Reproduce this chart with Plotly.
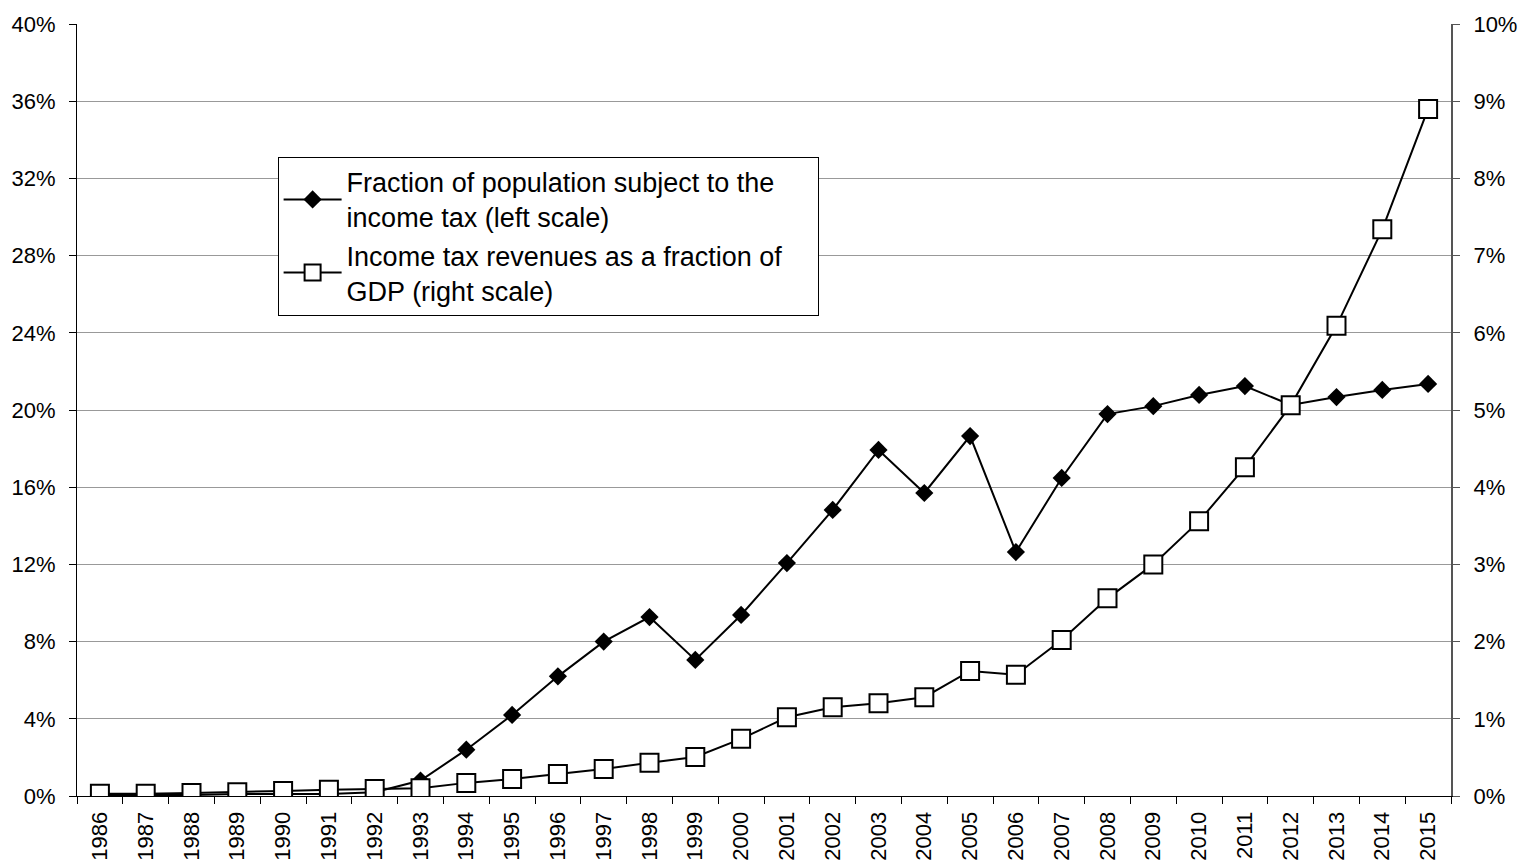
import plotly.graph_objects as go

years = [str(y) for y in range(1986, 2016)]

pop_share = [0.05, 0.05, 0.05, 0.1, 0.1, 0.1, 0.2, 0.8, 2.4, 4.2,
             6.2, 8.0, 9.27, 7.05, 9.38, 12.07, 14.82, 17.93, 15.7, 18.65,
             12.64, 16.48, 19.79, 20.2, 20.78, 21.24, 20.26, 20.67, 21.04, 21.35]

revenue_gdp = [0.03, 0.03, 0.04, 0.05, 0.065, 0.08, 0.09, 0.10, 0.17, 0.22,
               0.285, 0.35, 0.43, 0.505, 0.74, 1.02, 1.15, 1.2, 1.28, 1.62,
               1.57, 2.02, 2.56, 3.0, 3.56, 4.26, 5.06, 6.09, 7.34, 8.9]

left_ticks = list(range(0, 41, 4))
right_ticks = list(range(0, 11, 1))

font_family = "Liberation Sans, Arial, sans-serif"
pad = "\u00a0" * 5

fig = go.Figure()
fig.add_trace(go.Scatter(
    x=years, y=pop_share, mode="lines+markers",
    name="Fraction of population subject to the" + pad + "<br>income tax (left scale)",
    line=dict(color="black", width=2),
    marker=dict(symbol="diamond", size=14, color="black"),
    yaxis="y",
))
fig.add_trace(go.Scatter(
    x=years, y=revenue_gdp, mode="lines+markers",
    name="Income tax revenues as a fraction of<br>GDP (right scale)",
    line=dict(color="black", width=2),
    marker=dict(symbol="square", size=18, color="white",
                line=dict(color="black", width=2)),
    yaxis="y2",
))

fig.update_layout(
    width=1519, height=861,
    margin=dict(l=77, r=68, t=24, b=65),
    paper_bgcolor="white", plot_bgcolor="white",
    font=dict(family=font_family, size=22, color="black"),
    showlegend=True,
    legend=dict(
        x=0.146, y=0.828, xanchor="left", yanchor="top",
        bgcolor="white", bordercolor="black", borderwidth=1,
        font=dict(size=27, family=font_family, color="black"),
        itemwidth=58, tracegroupgap=0,
    ),
    xaxis=dict(
        type="category", range=[-0.5, 29.5], autorange=False,
        tickangle=-90, ticks="outside", tickson="boundaries",
        ticklen=7, tickcolor="black", showline=True, linecolor="black",
        linewidth=1, showgrid=False, tickfont=dict(size=22),
        ticklabelstandoff=6, automargin=False,
    ),
    yaxis=dict(
        range=[0, 40], tickvals=left_ticks,
        ticktext=[f"{v}%" for v in left_ticks],
        ticks="outside", ticklen=7, tickcolor="black",
        showline=True, linecolor="black", linewidth=1,
        showgrid=True, gridcolor="#999999", gridwidth=1,
        zeroline=False, tickfont=dict(size=22),
        ticklabelstandoff=9, automargin=False,
    ),
    yaxis2=dict(
        range=[0, 10], tickvals=right_ticks,
        ticktext=[f"{v}%" for v in right_ticks],
        overlaying="y", side="right",
        ticks="outside", ticklen=7, tickcolor="#555555",
        showline=True, linecolor="#555555", linewidth=2,
        showgrid=False, zeroline=False, tickfont=dict(size=22),
        ticklabelstandoff=9, automargin=False,
    ),
)

fig.write_html(
    "out.html",
    config={"displayModeBar": False},
    post_script="document.body.style.margin='0';document.body.style.overflow='hidden';",
)
